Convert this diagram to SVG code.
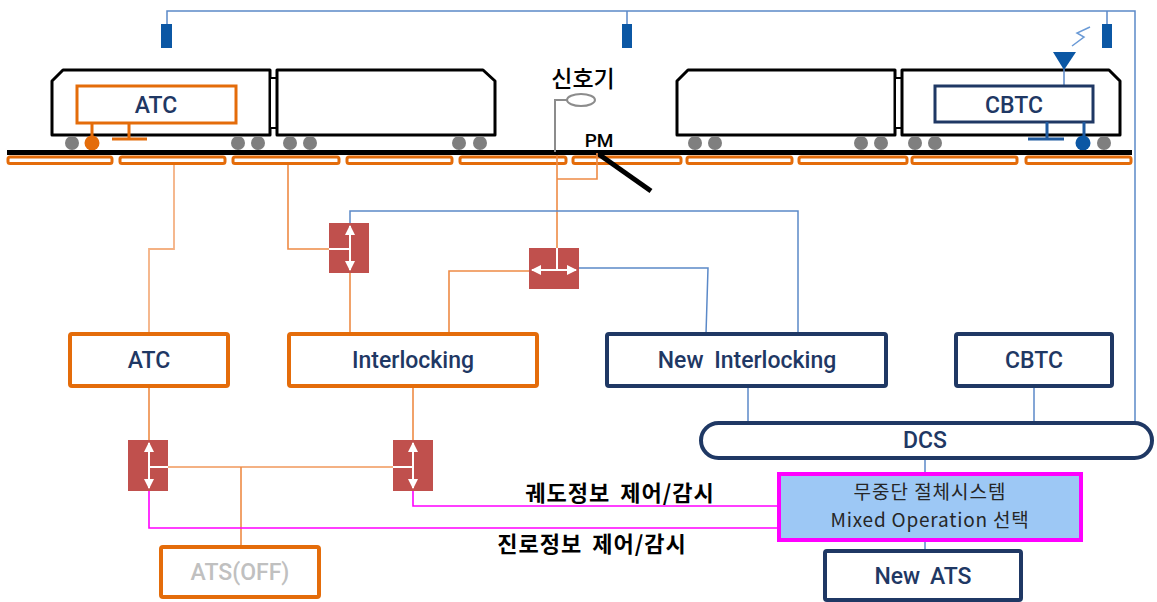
<svg xmlns="http://www.w3.org/2000/svg" width="1157" height="602" viewBox="0 0 1157 602">
  <style>
    .car { fill: #fff; stroke: #000; stroke-width: 3; stroke-linejoin: round; }
    .coupler { fill: #fff; stroke: #000; stroke-width: 2; }
    .wheel { fill: #7f7f7f; }
    .tie { fill: none; stroke: #E46C0A; stroke-width: 3; }
    .obox { fill: #fff; stroke: #E46C0A; stroke-width: 4; }
    .nbox { fill: #fff; stroke: #1F3864; stroke-width: 4; }
    .relay { fill: #C0504D; }
    .wline { stroke: #fff; stroke-width: 2; fill: none; }
    .lbl { font-family: Roboto, "Liberation Sans", sans-serif; font-size: 23px; font-weight: 500; fill: #1F3864; text-anchor: middle; }
    .kor { font-family: "Noto Sans CJK KR", "Noto Sans", sans-serif; text-anchor: middle; }
    .orange { stroke: #EE8B45; stroke-width: 1.6; fill: none; }
    .orange-lt { stroke: #F4B183; stroke-width: 1.8; fill: none; }
    .blue { stroke: #5B89C8; stroke-width: 1.5; fill: none; }
    .mag { stroke: #FF00FF; stroke-width: 1.6; fill: none; }
    .antenna { fill: #0B57A4; }
  </style>
  <defs>
    <marker id="wh" viewBox="0 0 10 10" refX="9" refY="5" markerWidth="10" markerHeight="10" markerUnits="userSpaceOnUse" orient="auto-start-reverse">
      <path d="M0,0 L10,5 L0,10 Z" fill="#fff"/>
    </marker>
  </defs>

  <!-- wayside radio network -->
  <g id="radio-net">
    <path class="blue" d="M167,24 V11 H1135 V425"/>
    <path class="blue" d="M627,11 V24"/>
    <path class="blue" d="M1107,11 V24"/>
    <rect class="antenna" x="161" y="24" width="11" height="24"/>
    <rect class="antenna" x="622" y="24" width="10" height="24"/>
    <rect class="antenna" x="1102" y="24" width="10" height="24"/>
    <path d="M1072,46 L1084,37 L1077,33 L1090,27" fill="none" stroke="#6A9AD6" stroke-width="1.5"/>
  </g>

  <!-- trains -->
  <g id="train-atc">
    <path class="car" d="M63,70 H270 V135 H52 V81 Z"/>
    <rect class="coupler" x="270" y="78" width="7" height="50"/>
    <path class="car" d="M277,70 H483 L495,81 V135 H277 Z"/>
    <rect x="77" y="86" width="159" height="37" fill="#fff" stroke="#E46C0A" stroke-width="3"/>
    <text class="lbl" x="156" y="113">ATC</text>
    <path d="M92,123 V140 M129,123 V139 M112,139 H147" stroke="#E46C0A" stroke-width="3" fill="none"/>
    <circle class="wheel" cx="72" cy="143" r="7"/>
    <circle cx="92" cy="143" r="7.5" fill="#E46C0A"/>
    <circle class="wheel" cx="238" cy="143" r="7"/>
    <circle class="wheel" cx="258" cy="143" r="7"/>
    <circle class="wheel" cx="290" cy="143" r="7"/>
    <circle class="wheel" cx="310" cy="143" r="7"/>
    <circle class="wheel" cx="459" cy="143" r="7"/>
    <circle class="wheel" cx="480" cy="143" r="7"/>
  </g>

  <g id="train-cbtc">
    <path class="car" d="M688,70 H895 V135 H677 V81 Z"/>
    <rect class="coupler" x="895" y="78" width="7" height="50"/>
    <path class="car" d="M902,70 H1109 L1120,81 V135 H902 Z"/>
    <path d="M1064,68 V87" stroke="#5B89C8" stroke-width="1.5"/>
    <path class="antenna" d="M1053,52 H1076 L1064,70 Z"/>
    <rect x="935" y="86" width="158" height="36" fill="#fff" stroke="#1F3864" stroke-width="3"/>
    <text class="lbl" x="1014" y="113">CBTC</text>
    <path d="M1047,122 V139 M1028,139 H1064 M1084,122 V140" stroke="#1F5AA0" stroke-width="3" fill="none"/>
    <circle class="wheel" cx="695" cy="143" r="7"/>
    <circle class="wheel" cx="715" cy="143" r="7"/>
    <circle class="wheel" cx="861" cy="143" r="7"/>
    <circle class="wheel" cx="881" cy="143" r="7"/>
    <circle class="wheel" cx="915" cy="143" r="7"/>
    <circle class="wheel" cx="935" cy="143" r="7"/>
    <circle cx="1083" cy="143" r="7.5" fill="#0B57A4"/>
    <circle class="wheel" cx="1104" cy="143" r="7"/>
  </g>

  <!-- track: rail and track circuits -->
  <g id="track">
    <line x1="7" y1="152.5" x2="1132" y2="152.5" stroke="#000" stroke-width="5"/>
    <rect class="tie" x="8" y="157" width="104" height="6.5" rx="2"/>
    <rect class="tie" x="120" y="157" width="105" height="6.5" rx="2"/>
    <rect class="tie" x="233" y="157" width="106" height="6.5" rx="2"/>
    <rect class="tie" x="347" y="157" width="105" height="6.5" rx="2"/>
    <rect class="tie" x="460" y="157" width="106" height="6.5" rx="2"/>
    <rect class="tie" x="573" y="157" width="108" height="6.5" rx="2"/>
    <rect class="tie" x="687" y="157" width="105" height="6.5" rx="2"/>
    <rect class="tie" x="799" y="157" width="108" height="6.5" rx="2"/>
    <rect class="tie" x="912" y="157" width="105" height="6.5" rx="2"/>
    <rect class="tie" x="1026" y="157" width="105" height="6.5" rx="2"/>
    <line x1="597" y1="153" x2="651" y2="191" stroke="#000" stroke-width="5"/>
    <text x="599" y="147" font-family="Roboto, 'Liberation Sans', sans-serif" font-size="19" font-weight="500" fill="#000" text-anchor="middle">PM</text>
  </g>

  <!-- signal -->
  <g id="signal">
    <path d="M555,152 V100 H567" stroke="#8c8c8c" stroke-width="2" fill="none"/>
    <ellipse cx="581" cy="100" rx="14" ry="6" fill="#fff" stroke="#8c8c8c" stroke-width="2"/>
    <text class="kor" x="583" y="87" font-size="23" font-weight="500" fill="#000">신호기</text>
  </g>

  <!-- connectors -->
  <g id="connectors">
    <path class="orange-lt" d="M174,165 V249 H149 V334"/>
    <path class="orange" d="M288,165 V249 H329"/>
    <path class="orange" d="M350,273 V334"/>
    <path class="orange" d="M557,155 V248"/>
    <path class="orange" d="M557,179 H597 V153"/>
    <path class="orange" d="M449,334 V271 H529"/>
    <path class="blue" d="M350,223 V211 H798 V334"/>
    <path class="blue" d="M579,268 H708 L706,334"/>
    <path class="orange" d="M149,386 V440"/>
    <path class="orange" d="M413,386 V440"/>
    <path class="orange-lt" d="M168,467 H393"/>
    <path class="orange" d="M241,467 V547"/>
    <path class="mag" d="M149,491 V528 H779"/>
    <path class="mag" d="M413,491 V506 H779"/>
    <path class="blue" d="M748,386 V422"/>
    <path class="blue" d="M1034,386 V422"/>
    <path class="blue" d="M925,458 V474"/>
    <path class="blue" d="M925,540 V551"/>
    <text class="kor" x="620" y="501" font-size="22" font-weight="bold" fill="#000" letter-spacing="1" word-spacing="4">궤도정보 제어/감시</text>
    <text class="kor" x="592" y="552" font-size="22" font-weight="bold" fill="#000" letter-spacing="1" word-spacing="4">진로정보 제어/감시</text>
  </g>

  <!-- relay interfaces -->
  <g id="relay-1">
    <rect class="relay" x="329" y="223" width="40" height="50"/>
    <line class="wline" x1="350" y1="226" x2="350" y2="270" marker-start="url(#wh)" marker-end="url(#wh)"/>
    <line class="wline" x1="329" y1="249" x2="350" y2="249"/>
  </g>
  <g id="relay-2">
    <rect class="relay" x="529" y="248" width="50" height="41"/>
    <line class="wline" x1="532" y1="270" x2="576" y2="270" marker-start="url(#wh)" marker-end="url(#wh)"/>
    <line class="wline" x1="557" y1="248" x2="557" y2="270"/>
  </g>
  <g id="relay-3">
    <rect class="relay" x="128" y="440" width="40" height="51"/>
    <line class="wline" x1="149" y1="443" x2="149" y2="488" marker-start="url(#wh)" marker-end="url(#wh)"/>
    <line class="wline" x1="149" y1="467" x2="168" y2="467"/>
  </g>
  <g id="relay-4">
    <rect class="relay" x="393" y="440" width="40" height="51"/>
    <line class="wline" x1="413" y1="443" x2="413" y2="488" marker-start="url(#wh)" marker-end="url(#wh)"/>
    <line class="wline" x1="393" y1="467" x2="413" y2="467"/>
  </g>

  <!-- system nodes -->
  <g id="atc">
    <rect class="obox" x="70" y="334" width="158" height="52" rx="2"/>
    <text class="lbl" x="149" y="368">ATC</text>
  </g>
  <g id="interlocking">
    <rect class="obox" x="289" y="334" width="248" height="52" rx="2"/>
    <text class="lbl" x="413" y="368">Interlocking</text>
  </g>
  <g id="new-interlocking">
    <rect class="nbox" x="607" y="334" width="279" height="52" rx="2"/>
    <text class="lbl" x="747" y="368" word-spacing="5">New Interlocking</text>
  </g>
  <g id="cbtc">
    <rect class="nbox" x="956" y="334" width="156" height="52" rx="2"/>
    <text class="lbl" x="1034" y="368">CBTC</text>
  </g>
  <g id="dcs">
    <rect class="nbox" x="701" y="423" width="451" height="35" rx="17.5" stroke-width="3.5"/>
    <text class="lbl" x="925" y="448">DCS</text>
  </g>
  <g id="mixed-operation">
    <rect x="779" y="474" width="302" height="66" fill="#9DC8F5" stroke="#FF00FF" stroke-width="4"/>
    <text class="kor" x="930" y="499" font-size="19" letter-spacing="1" fill="#262626">무중단 절체시스템</text>
    <text class="kor" x="930" y="527" font-size="19" letter-spacing="0.8" fill="#262626">Mixed Operation 선택</text>
  </g>
  <g id="new-ats">
    <rect class="nbox" x="825" y="551" width="196" height="49" rx="2"/>
    <text class="lbl" x="923" y="584" word-spacing="4">New ATS</text>
  </g>
  <g id="ats-off">
    <rect class="obox" x="161" y="547" width="158" height="50" rx="2"/>
    <text class="lbl" x="240" y="580" style="fill:#C0C0C0">ATS(OFF)</text>
  </g>
</svg>
